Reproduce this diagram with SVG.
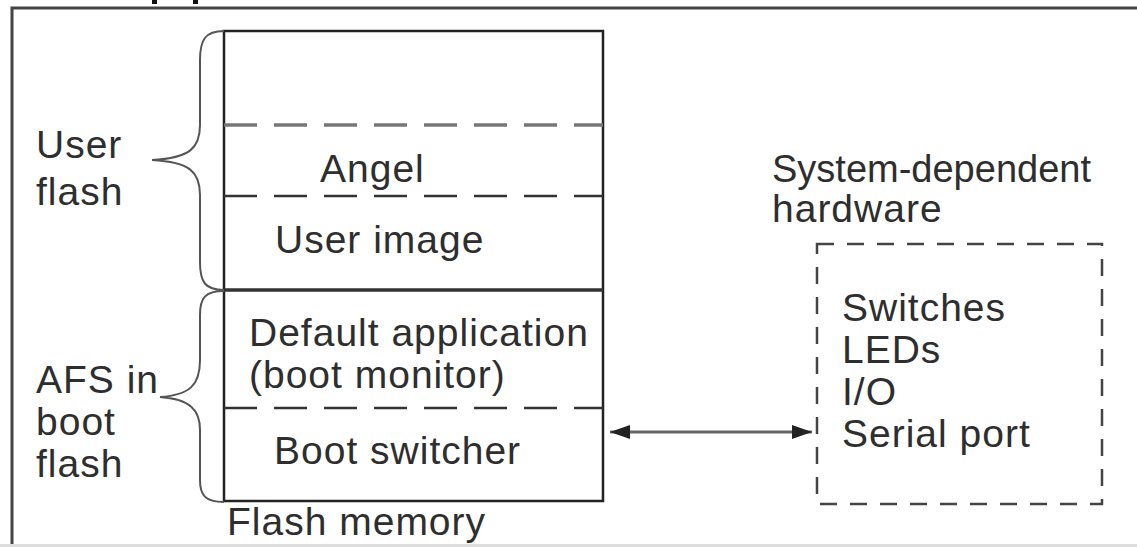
<svg xmlns="http://www.w3.org/2000/svg" width="1137" height="547" viewBox="0 0 1137 547">
<style>
text{font-family:"Liberation Sans",Arial,sans-serif;font-size:39px;fill:#2e2e2e;letter-spacing:1px}
.solid{fill:none;stroke:#222;stroke-width:2.5}
.dash{fill:none;stroke:#333;stroke-width:2.5;stroke-dasharray:33 17}
.dashlight{fill:none;stroke:#777;stroke-width:3.5;stroke-dasharray:33 17}
.brace{fill:none;stroke:#555;stroke-width:2}
</style>
<defs>
<marker id="ah" viewBox="0 0 20 14" refX="20" refY="7" markerWidth="20" markerHeight="14" markerUnits="userSpaceOnUse" orient="auto-start-reverse">
<path d="M0,0 L20,7 L0,14 Z" fill="#222"/>
</marker>
</defs>
<rect width="1137" height="547" fill="#fff"/>
<g id="frame">
<path d="M12,547 L12,8 L1137,8" fill="none" stroke="#444" stroke-width="3"/>
<line x1="0" y1="545.5" x2="1137" y2="545.5" stroke="#ddd" stroke-width="3"/>
<rect x="152" y="0" width="5" height="4" fill="#111"/>
<rect x="193" y="0" width="5" height="4" fill="#111"/>
</g>
<g id="flash-memory">
<rect class="solid" x="224" y="31" width="379" height="470"/>
<line class="dashlight" x1="224" y1="125" x2="603" y2="125"/>
<line class="dash" x1="224" y1="196" x2="603" y2="196"/>
<line x1="224" y1="290" x2="603" y2="290" stroke="#333" stroke-width="3.5"/>
<line class="dash" x1="224" y1="408" x2="603" y2="408"/>
<text x="320" y="182">Angel</text>
<text x="275" y="253">User image</text>
<text x="249" y="346">Default application</text>
<text x="249" y="388">(boot monitor)</text>
<text x="274" y="464">Boot switcher</text>
<text x="227" y="535">Flash memory</text>
</g>
<g id="user-flash">
<path class="brace" d="M224,31 C205,31 200,40 200,60 L200,125 C200,148 190,158 152,160 C190,162 200,172 200,195 L200,262 C200,282 205,290 224,290"/>
<text x="36" y="158">User</text>
<text x="36" y="205">flash</text>
</g>
<g id="afs-boot-flash">
<path class="brace" d="M224,291 C205,291 200,298 200,315 L200,360 C200,385 190,395 160,397 C190,399 200,410 200,430 L200,480 C200,495 205,502 224,502"/>
<text x="36" y="393">AFS in</text>
<text x="36" y="435">boot</text>
<text x="36" y="477">flash</text>
</g>
<g id="hardware">
<text x="772" y="182" style="font-size:38px;letter-spacing:0">System-dependent</text>
<text x="772" y="222">hardware</text>
<rect x="817" y="244" width="285" height="260" fill="none" stroke="#444" stroke-width="2.5" stroke-dasharray="17 13"/>
<text x="842" y="321">Switches</text>
<text x="842" y="363">LEDs</text>
<text x="842" y="405">I/O</text>
<text x="842" y="447">Serial port</text>
</g>
<g id="connectors">
<line x1="610" y1="432" x2="812" y2="432" stroke="#666" stroke-width="3" marker-start="url(#ah)" marker-end="url(#ah)"/>
</g>
</svg>
